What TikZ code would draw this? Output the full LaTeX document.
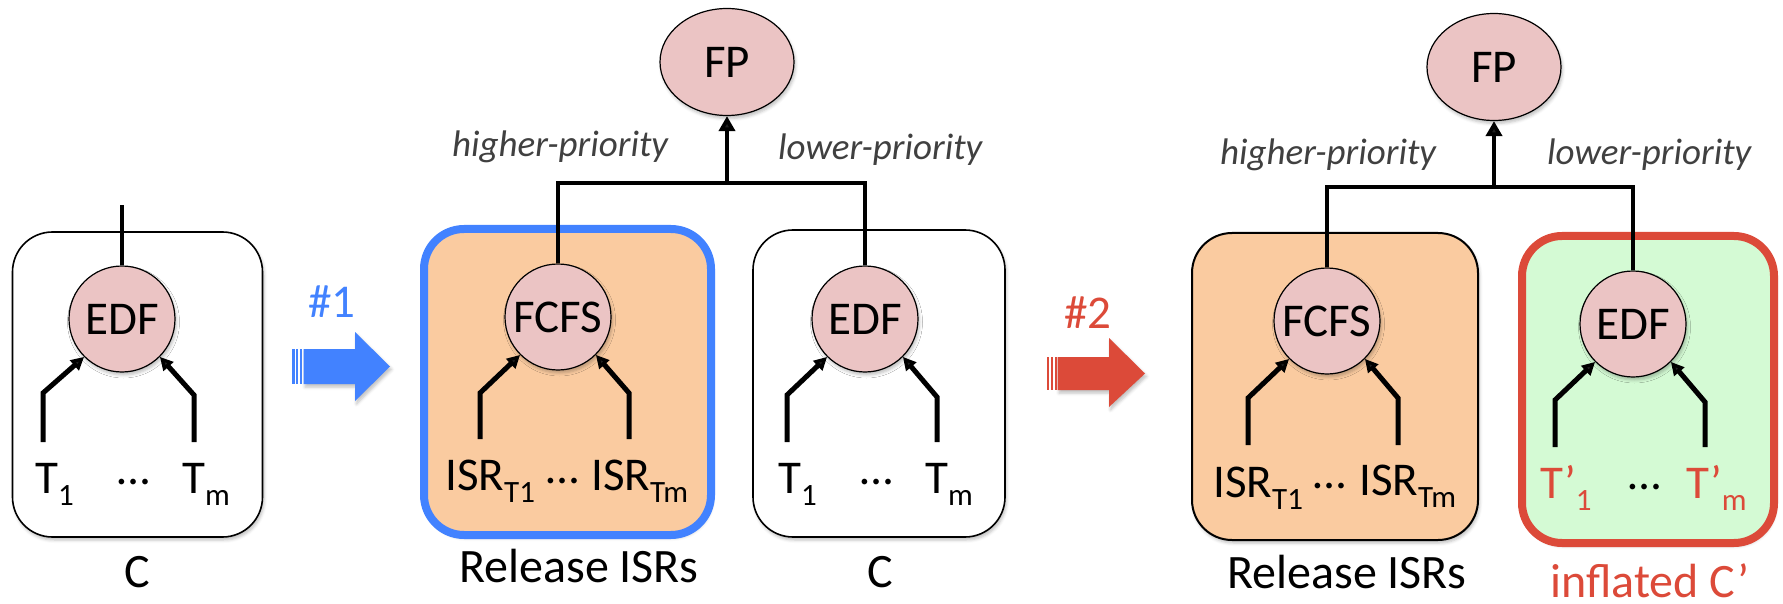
\documentclass[tikz,border=0pt]{standalone}
\usepackage{fontspec}
\setmainfont{Carlito}
\usetikzlibrary{arrows.meta,shapes.geometric,shadows.blur}

\definecolor{nodepink}{RGB}{235,196,196}
\definecolor{peach}{RGB}{250,203,160}
\definecolor{mint}{RGB}{212,250,212}
\definecolor{stepblue}{RGB}{66,130,255}
\definecolor{stepred}{RGB}{220,74,57}
\definecolor{notegray}{RGB}{64,64,64}

\newcommand\lbl{\fontsize{47}{50}\selectfont}
\newcommand\capsize{\fontsize{48}{50}\selectfont}
\newcommand\subtxt[1]{\raisebox{-12pt}{\fontsize{31}{32}\selectfont #1}}

\begin{document}
\begin{tikzpicture}[x=1pt,y=-1pt,
  softshadow/.style={blur shadow={shadow xshift=1.5pt,shadow yshift=-3pt,shadow blur radius=3pt,shadow opacity=25}},
  sched/.style={circle,draw=black,line width=1.2pt,fill=nodepink,minimum size=106pt,
    inner sep=0pt,font=\lbl,softshadow},
  rootnode/.style={sched,ellipse,minimum width=134pt,minimum height=107pt},
  group/.style={rectangle,rounded corners=40pt,draw=black,fill=white,line width=1.6pt,softshadow},
  wire/.style={line width=4.5pt},
  feed/.style={line width=5pt,-{Triangle[length=13pt,width=13pt]}},
  uparrow/.style={line width=4.5pt,-{Triangle[length=15pt,width=16pt]}},
  lab/.style={font=\lbl,inner sep=0pt},
  caption/.style={font=\capsize,inner sep=0pt,anchor=base},
  note/.style={font=\fontsize{37}{40}\selectfont\itshape,text=notegray,inner sep=0pt,anchor=base west}
]
\useasboundingbox (0,0) rectangle (1783,604);

% ---------- groups ----------
\node[group,minimum width=250pt,minimum height=305pt] (boxA) at (137.5,384.5) {};
\node[group,draw=stepblue,line width=8pt,fill=peach,minimum width=287pt,minimum height=306pt] (boxB) at (567.5,382) {};
\node[group,minimum width=252pt,minimum height=307pt] (boxBB) at (879,383.5) {};
\node[group,fill=peach,line width=2pt,minimum width=286pt,minimum height=307pt] (boxC) at (1335,386.5) {};
\node[group,draw=stepred,line width=8pt,fill=mint,minimum width=252pt,minimum height=307pt] (boxCC) at (1648,389.5) {};

% ---------- schedulers ----------
\node[sched] (edfA) at (122,319) {EDF};
\node[sched] (fcfsB) at (558,317) {FCFS};
\node[sched] (edfB) at (865,319) {EDF};
\node[rootnode] (fpB) at (727,62) {FP};
\node[sched] (fcfsC) at (1327,321) {FCFS};
\node[sched] (edfC) at (1633,324) {EDF};
\node[rootnode] (fpC) at (1494,67) {FP};

% ---------- step arrows ----------
\fill[stepblue,softshadow] (303.5,349) -- (355,349) -- (355,332) -- (390,366.5) -- (355,401) -- (355,384) -- (303.5,384) -- cycle;
\fill[stepblue] (292.3,349) rectangle (294.5,384);
\fill[stepblue] (296.2,349) rectangle (298.4,384);
\fill[stepblue] (300.0,349) rectangle (302.2,384);
\node[lab,text=stepblue,anchor=base] (stepone) at (332,317) {\#1};

\fill[stepred,softshadow] (1057.5,357) -- (1109,357) -- (1109,338) -- (1145,373.5) -- (1109,407) -- (1109,390) -- (1057.5,390) -- cycle;
\fill[stepred] (1047.0,357) rectangle (1049.2,390);
\fill[stepred] (1050.8,357) rectangle (1053.0,390);
\fill[stepred] (1054.6,357) rectangle (1056.8,390);
\node[lab,text=stepred,anchor=base] (steptwo) at (1088,328) {\#2};

% ---------- priority tree ----------
\coordinate (topA) at (122,205);
\draw[wire] (edfA.north) -- (topA);

\coordinate (jB) at (727,183);
\draw[wire] (fcfsB.north) |- (jB) -| (edfB.north);
\draw[uparrow] (jB) -- (fpB.south);
\node[note] (hiB) at (452,157) {higher-priority};
\node[note] (loB) at (778,160) {lower-priority};

\coordinate (jC) at (1494,187);
\draw[wire] (fcfsC.north) |- (jC) -| (edfC.north);
\draw[uparrow] (jC) -- (fpC.south);
\node[note] (hiC) at (1220,165) {higher-priority};
\node[note] (loC) at (1547,165) {lower-priority};

% ---------- task inputs ----------
\coordinate (inA1) at (43,442);  \coordinate (inA2) at (194,442);
\draw[feed] (inA1) -- (43,393) -- (edfA.south west);
\draw[feed] (inA2) -- (194,395) -- (edfA.south east);

\coordinate (inB1) at (480,439); \coordinate (inB2) at (629,439);
\draw[feed] (inB1) -- (480,393) -- (fcfsB.south west);
\draw[feed] (inB2) -- (629,393) -- (fcfsB.south east);

\coordinate (inBB1) at (787,442); \coordinate (inBB2) at (937,442);
\draw[feed] (inBB1) -- (787,395) -- (edfB.south west);
\draw[feed] (inBB2) -- (937,397) -- (edfB.south east);

\coordinate (inC1) at (1248,445); \coordinate (inC2) at (1398,445);
\draw[feed] (inC1) -- (1248,398) -- (fcfsC.south west);
\draw[feed] (inC2) -- (1398,398) -- (fcfsC.south east);

\coordinate (inCC1) at (1555,447); \coordinate (inCC2) at (1705,447);
\draw[feed] (inCC1) -- (1555,400) -- (edfC.south west);
\draw[feed] (inCC2) -- (1705,402) -- (edfC.south east);

% ---------- task labels ----------
\node[lab,anchor=base west] (tA1) at (35,493) {T\subtxt{1}};
\node[lab,anchor=base] (dotsA) at (134,484) {…};
\node[lab,anchor=base west] (tAm) at (182,493) {T\subtxt{m}};

\node[lab,anchor=base west] (isrB1) at (445,490) {ISR\subtxt{T1}};
\node[lab,anchor=base] (dotsB) at (563,483) {…};
\node[lab,anchor=base west] (isrBm) at (591,490) {ISR\subtxt{Tm}};

\node[lab,anchor=base west] (tBB1) at (778,493) {T\subtxt{1}};
\node[lab,anchor=base] (dotsBB) at (877,484) {…};
\node[lab,anchor=base west] (tBBm) at (925,493) {T\subtxt{m}};

\node[lab,anchor=base west] (isrC1) at (1213,497) {ISR\subtxt{T1}};
\node[lab,anchor=base] (dotsC) at (1330,488) {…};
\node[lab,anchor=base west] (isrCm) at (1359,495) {ISR\subtxt{Tm}};

\node[lab,anchor=base west,text=stepred] (tCC1) at (1540,498) {T’\subtxt{1}};
\node[lab,anchor=base] (dotsCC) at (1645,489) {…};
\node[lab,anchor=base west,text=stepred] (tCCm) at (1686,498) {T’\subtxt{m}};

% ---------- captions ----------
\node[caption] (capA) at (137,587) {C};
\node[caption] (capB) at (579,582) {Release ISRs};
\node[caption] (capBB) at (880,587) {C};
\node[caption] (capC) at (1347,588) {Release ISRs};
\node[caption,text=stepred] (capCC) at (1650,597) {inflated C’};
\end{tikzpicture}
\end{document}
